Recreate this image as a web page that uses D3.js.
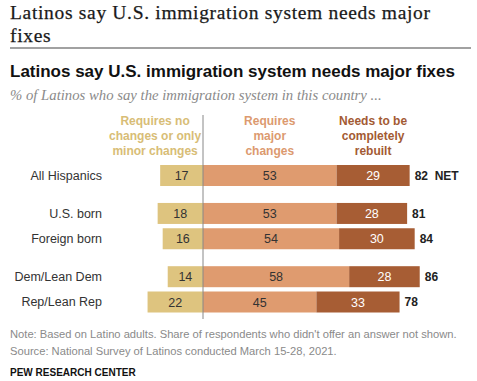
<!doctype html>
<html>
<head>
<meta charset="utf-8">
<script src="https://d3js.org/d3.v7.min.js"></script>
<style>
  body { margin: 0; background: #fff; }
  svg text { font-family: "Liberation Sans", Arial, sans-serif; }
</style>
</head>
<body>
<div id="chart"></div>
<script>
// data
var categories = ["All Hispanics", "U.S. born", "Foreign born", "Dem/Lean Dem", "Rep/Lean Rep"];
var groups = [0, 1, 1, 2, 2];
var noMinor = [17, 18, 16, 14, 22];
var major = [53, 53, 54, 58, 45];
var rebuilt = [29, 28, 30, 28, 33];
var net = [82, 81, 84, 86, 78];
var headers = [
  ["Requires no", "changes or only", "minor changes"],
  ["Requires", "major", "changes"],
  ["Needs to be", "completely", "rebuilt"]
];

var width = 477, height = 381;
var light = "#dec47f", mid = "#df9b6f", dark = "#a75d34";

var svg = d3.select("#chart").append("svg")
  .attr("width", width)
  .attr("height", height);

// fit a text to a given width by adjusting font size
function fit(sel, w) {
  var len = sel.node().getComputedTextLength();
  var fs = parseFloat(sel.attr("font-size"));
  sel.attr("font-size", fs * w / len);
}

var serif = "'Liberation Serif', Georgia, serif";

// titles (two lines, letter spaced so font stays small enough)
var t1 = svg.append("text").attr("x", 10).attr("y", 19)
  .attr("font-size", 19.5).attr("fill", "#1a1a1a")
  .attr("stroke", "#1a1a1a").attr("stroke-width", 0.25)
  .style("font-family", serif)
  .text("Latinos say U.S. immigration system needs major");
var ls = (420 - t1.node().getComputedTextLength()) / 46;
t1.style("letter-spacing", ls + "px");
svg.append("text").attr("x", 10).attr("y", 42)
  .attr("font-size", 19.5).attr("fill", "#1a1a1a")
  .attr("stroke", "#1a1a1a").attr("stroke-width", 0.25)
  .style("font-family", serif).style("letter-spacing", ls + "px")
  .text("fixes");

svg.append("line").attr("x1", 10).attr("x2", 471).attr("y1", 48).attr("y2", 48)
  .attr("stroke", "#444").attr("stroke-width", 1.2);

var t2 = svg.append("text").attr("x", 10).attr("y", 77)
  .attr("font-size", 17).attr("font-weight", "bold").attr("fill", "#111")
  .text("Latinos say U.S. immigration system needs major fixes");
fit(t2, 445);

var t3 = svg.append("text").attr("x", 10).attr("y", 100)
  .attr("font-size", 12).attr("font-style", "italic").attr("fill", "#8a8a8a")
  .style("font-family", serif)
  .text("% of Latinos who say the immigration system in this country ...");
fit(t3, 372);

// scales
var x = d3.scaleLinear().domain([0, 100]).range([203, 455]);
var slot = categories.map(function(d, i) { return i + groups[i] * 0.5; });
var y = d3.scaleLinear().domain([0, 5]).range([165, 291.5]);
var barH = 21;

// headers
var hx = [x(-19), x(major[0] / 2), x(major[0] + rebuilt[0] / 2)];
var hc = ["#d8bd76", "#dc9a6f", "#a35a33"];
headers.forEach(function(lines, j) {
  lines.forEach(function(s, k) {
    svg.append("text").attr("x", hx[j]).attr("y", 125 + k * 15)
      .attr("text-anchor", "middle").attr("font-size", 12).attr("font-weight", "bold")
      .attr("fill", hc[j]).text(s);
  });
});

var rows = svg.append("g").selectAll("g")
  .data(categories)
  .enter().append("g")
  .attr("transform", function(d, i) { return "translate(0," + y(slot[i]) + ")"; });

rows.append("text").attr("x", 102).attr("y", barH / 2).attr("dy", "0.35em")
  .attr("text-anchor", "end").attr("font-size", 12.5).attr("fill", "#333")
  .text(function(d) { return d; });

rows.append("rect")
  .attr("x", function(d, i) { return x(-noMinor[i]); })
  .attr("width", function(d, i) { return x(0) - x(-noMinor[i]); })
  .attr("height", barH).attr("fill", light);
rows.append("rect")
  .attr("x", x(0))
  .attr("width", function(d, i) { return x(major[i]) - x(0); })
  .attr("height", barH).attr("fill", mid);
rows.append("rect")
  .attr("x", function(d, i) { return x(major[i]); })
  .attr("width", function(d, i) { return x(major[i] + rebuilt[i]) - x(major[i]); })
  .attr("height", barH).attr("fill", dark);

function valText(xf, tf, col) {
  rows.append("text").attr("x", xf).attr("y", barH / 2).attr("dy", "0.36em")
    .attr("text-anchor", "middle").attr("font-size", 12.5).attr("fill", col)
    .text(tf);
}
valText(function(d, i) { return x(-noMinor[i] / 2); }, function(d, i) { return noMinor[i]; }, "#333");
valText(function(d, i) { return x(major[i] / 2); }, function(d, i) { return major[i]; }, "#333");
valText(function(d, i) { return x(major[i] + rebuilt[i] / 2); }, function(d, i) { return rebuilt[i]; }, "#fff");

rows.append("text")
  .attr("x", function(d, i) { return x(major[i] + rebuilt[i]) + 5; })
  .attr("y", barH / 2).attr("dy", "0.36em")
  .attr("font-size", 12).attr("font-weight", "bold").attr("fill", "#222")
  .text(function(d, i) { return i === 0 ? net[i] + "  NET" : net[i]; })
  .style("white-space", "pre");

// zero line
svg.append("line").attr("x1", x(0)).attr("x2", x(0)).attr("y1", 115).attr("y2", 319)
  .attr("stroke", "#888").attr("stroke-width", 1);

// notes
var n1 = svg.append("text").attr("x", 10).attr("y", 338)
  .attr("font-size", 11).attr("fill", "#8a8a8a")
  .text("Note: Based on Latino adults. Share of respondents who didn't offer an answer not shown.");
fit(n1, 447);
svg.append("text").attr("x", 10).attr("y", 355)
  .attr("font-size", n1.attr("font-size")).attr("fill", "#8a8a8a")
  .text("Source: National Survey of Latinos conducted March 15-28, 2021.");
var n3 = svg.append("text").attr("x", 10).attr("y", 376)
  .attr("font-size", 11).attr("font-weight", "bold").attr("fill", "#111")
  .text("PEW RESEARCH CENTER");
fit(n3, 126);
</script>
</body>
</html>
